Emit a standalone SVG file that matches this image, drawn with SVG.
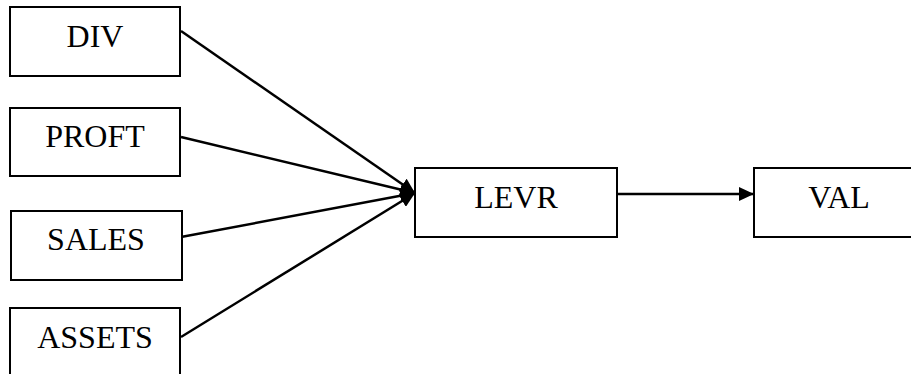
<svg xmlns="http://www.w3.org/2000/svg" width="911" height="374" viewBox="0 0 911 374">
<style>
.box{fill:#fff;stroke:#000;stroke-width:2}
.lbl{font-family:"Liberation Serif","Times New Roman",serif;font-size:32px;fill:#000;text-anchor:middle}
.con{stroke:#000;stroke-width:2.5;fill:none;marker-end:url(#ah)}
</style>
<defs>
<marker id="ah" viewBox="0 0 15 14" refX="15" refY="7" markerWidth="15" markerHeight="14" markerUnits="userSpaceOnUse" orient="auto">
<path d="M0,0 L15,7 L0,14 Z" fill="#000"/>
</marker>
</defs>
<rect width="911" height="374" fill="#fff"/>
<g id="connectors">
<line class="con" x1="181" y1="31" x2="415" y2="193"/>
<line class="con" x1="181" y1="137" x2="415" y2="193"/>
<line class="con" x1="181" y1="237" x2="415" y2="193"/>
<line class="con" x1="181" y1="337" x2="415" y2="193"/>
<line class="con" x1="617" y1="194" x2="754" y2="194"/>
</g>
<g id="div"><rect class="box" x="10" y="7" width="170" height="69"/><text class="lbl" x="95" y="47">DIV</text></g>
<g id="proft"><rect class="box" x="10" y="108" width="170" height="68"/><text class="lbl" x="95" y="147">PROFT</text></g>
<g id="sales"><rect class="box" x="11" y="211" width="171" height="69"/><text class="lbl" x="96" y="250">SALES</text></g>
<g id="assets"><rect class="box" x="10" y="308" width="170" height="80"/><text class="lbl" x="95" y="348">ASSETS</text></g>
<g id="levr"><rect class="box" x="415" y="168" width="202" height="69"/><text class="lbl" x="516" y="208">LEVR</text></g>
<g id="val"><rect class="box" x="754" y="168" width="170" height="69"/><text class="lbl" x="839" y="208">VAL</text></g>
</svg>
